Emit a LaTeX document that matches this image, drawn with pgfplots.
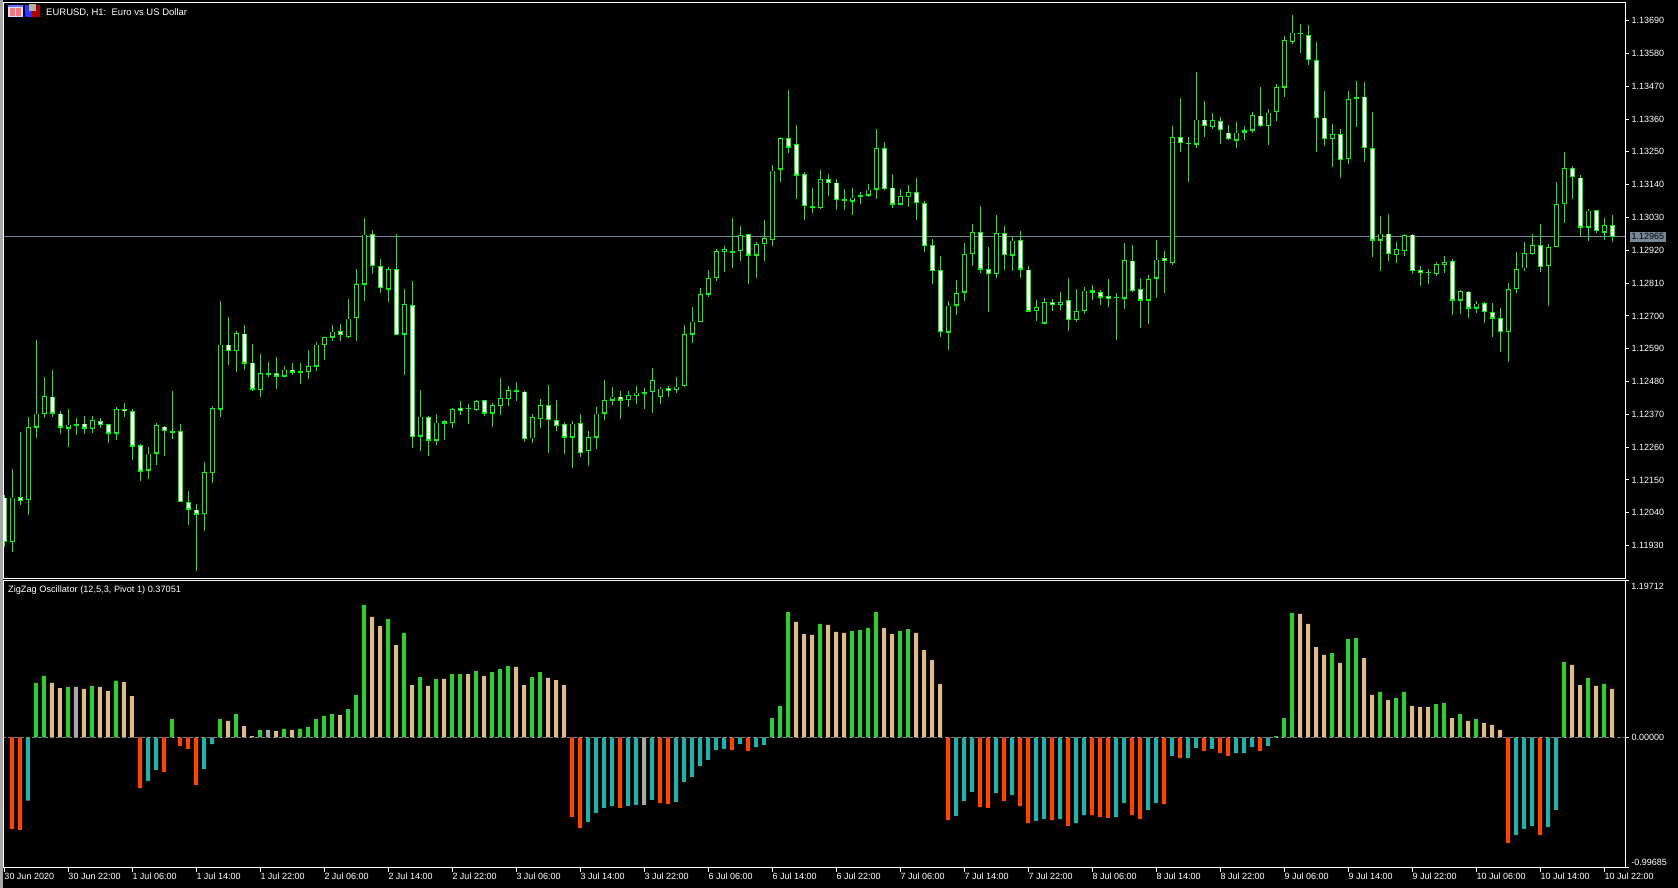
\documentclass[border=0pt]{standalone}
\usepackage{fontspec}
\setmainfont{Liberation Sans}
\usepackage{pgfplots}
\usepackage{pgfplotstable}
\pgfplotsset{compat=1.18}

\definecolor{candle}{HTML}{00FF00}
\definecolor{slate}{HTML}{778899}
\definecolor{upbar}{HTML}{32CD32}
\definecolor{tanbar}{HTML}{DEB887}
\definecolor{tealbar}{HTML}{20B2AA}
\definecolor{redbar}{HTML}{FF4500}
\definecolor{greybar}{HTML}{A9A9A9}

% EURUSD H1, bar number, open, high, low, close
\pgfplotstableread{
i o h l c
0 1.12092 1.12098 1.11924 1.11943
1 1.11943 1.12187 1.11909 1.12092
2 1.12092 1.12311 1.12067 1.12078
3 1.12082 1.12361 1.12033 1.12327
4 1.12326 1.12619 1.12291 1.12373
5 1.12370 1.12495 1.12358 1.12430
6 1.12430 1.12520 1.12362 1.12373
7 1.12373 1.12382 1.12305 1.12326
8 1.12324 1.12388 1.12262 1.12337
9 1.12336 1.12358 1.12301 1.12337
10 1.12340 1.12365 1.12305 1.12324
11 1.12322 1.12365 1.12308 1.12351
12 1.12347 1.12358 1.12325 1.12334
13 1.12337 1.12339 1.12274 1.12306
14 1.12306 1.12396 1.12284 1.12388
15 1.12388 1.12408 1.12362 1.12380
16 1.12381 1.12388 1.12217 1.12263
17 1.12267 1.12272 1.12148 1.12179
18 1.12182 1.12262 1.12154 1.12239
19 1.12239 1.12340 1.12201 1.12334
20 1.12330 1.12331 1.12231 1.12314
21 1.12314 1.12448 1.12288 1.12309
22 1.12314 1.12337 1.12076 1.12076
23 1.12076 1.12113 1.12000 1.12051
24 1.12052 1.12070 1.11846 1.12035
25 1.12035 1.12211 1.11979 1.12176
26 1.12175 1.12398 1.12139 1.12391
27 1.12387 1.12750 1.12362 1.12605
28 1.12605 1.12697 1.12536 1.12584
29 1.12584 1.12650 1.12511 1.12642
30 1.12642 1.12668 1.12520 1.12541
31 1.12544 1.12606 1.12448 1.12454
32 1.12450 1.12573 1.12429 1.12508
33 1.12508 1.12546 1.12494 1.12506
34 1.12508 1.12563 1.12455 1.12497
35 1.12497 1.12533 1.12497 1.12521
36 1.12521 1.12543 1.12502 1.12511
37 1.12515 1.12543 1.12473 1.12512
38 1.12513 1.12587 1.12489 1.12532
39 1.12531 1.12613 1.12516 1.12605
40 1.12604 1.12629 1.12553 1.12629
41 1.12628 1.12668 1.12616 1.12649
42 1.12649 1.12673 1.12616 1.12635
43 1.12631 1.12758 1.12626 1.12692
44 1.12692 1.12858 1.12616 1.12806
45 1.12806 1.13029 1.12750 1.12974
46 1.12974 1.12988 1.12841 1.12867
47 1.12867 1.12892 1.12778 1.12793
48 1.12789 1.12864 1.12748 1.12857
49 1.12858 1.12975 1.12635 1.12635
50 1.12638 1.12790 1.12502 1.12739
51 1.12735 1.12817 1.12258 1.12293
52 1.12296 1.12453 1.12248 1.12363
53 1.12362 1.12363 1.12231 1.12283
54 1.12283 1.12372 1.12268 1.12344
55 1.12348 1.12352 1.12284 1.12340
56 1.12340 1.12391 1.12325 1.12387
57 1.12391 1.12415 1.12368 1.12383
58 1.12387 1.12406 1.12339 1.12391
59 1.12386 1.12418 1.12380 1.12414
60 1.12418 1.12418 1.12365 1.12373
61 1.12373 1.12408 1.12329 1.12401
62 1.12399 1.12492 1.12368 1.12424
63 1.12423 1.12464 1.12398 1.12451
64 1.12451 1.12479 1.12415 1.12446
65 1.12448 1.12448 1.12278 1.12289
66 1.12289 1.12371 1.12274 1.12361
67 1.12356 1.12420 1.12325 1.12401
68 1.12401 1.12468 1.12241 1.12350
69 1.12351 1.12419 1.12315 1.12332
70 1.12337 1.12345 1.12238 1.12293
71 1.12293 1.12348 1.12191 1.12340
72 1.12340 1.12372 1.12228 1.12242
73 1.12246 1.12315 1.12197 1.12294
74 1.12293 1.12396 1.12254 1.12373
75 1.12373 1.12486 1.12352 1.12418
76 1.12417 1.12463 1.12402 1.12430
77 1.12430 1.12449 1.12355 1.12417
78 1.12417 1.12449 1.12396 1.12434
79 1.12432 1.12465 1.12406 1.12444
80 1.12443 1.12458 1.12388 1.12444
81 1.12446 1.12526 1.12375 1.12485
82 1.12429 1.12463 1.12406 1.12458
83 1.12459 1.12465 1.12429 1.12450
84 1.12453 1.12496 1.12443 1.12464
85 1.12466 1.12668 1.12463 1.12639
86 1.12638 1.12731 1.12610 1.12682
87 1.12681 1.12793 1.12681 1.12773
88 1.12772 1.12855 1.12764 1.12827
89 1.12826 1.12925 1.12817 1.12917
90 1.12917 1.12935 1.12848 1.12925
91 1.12917 1.13029 1.12861 1.12913
92 1.12917 1.13002 1.12884 1.12971
93 1.12974 1.12974 1.12807 1.12903
94 1.12903 1.12948 1.12827 1.12941
95 1.12940 1.13020 1.12884 1.12961
96 1.12956 1.13207 1.12935 1.13188
97 1.13191 1.13300 1.13150 1.13296
98 1.13296 1.13459 1.13247 1.13265
99 1.13276 1.13341 1.13093 1.13171
100 1.13176 1.13183 1.13022 1.13070
101 1.13068 1.13130 1.13046 1.13064
102 1.13063 1.13189 1.13059 1.13158
103 1.13158 1.13177 1.13103 1.13147
104 1.13148 1.13158 1.13055 1.13090
105 1.13088 1.13126 1.13055 1.13091
106 1.13084 1.13130 1.13039 1.13098
107 1.13098 1.13116 1.13075 1.13105
108 1.13104 1.13144 1.13099 1.13124
109 1.13124 1.13327 1.13093 1.13263
110 1.13263 1.13284 1.13123 1.13127
111 1.13131 1.13176 1.13063 1.13074
112 1.13074 1.13126 1.13074 1.13101
113 1.13100 1.13140 1.13065 1.13115
114 1.13115 1.13163 1.13022 1.13080
115 1.13078 1.13087 1.12915 1.12936
116 1.12938 1.12959 1.12807 1.12852
117 1.12853 1.12902 1.12630 1.12645
118 1.12645 1.12750 1.12587 1.12735
119 1.12735 1.12821 1.12703 1.12776
120 1.12779 1.12945 1.12750 1.12907
121 1.12907 1.13008 1.12868 1.12981
122 1.12981 1.13069 1.12845 1.12856
123 1.12857 1.12932 1.12714 1.12840
124 1.12842 1.13039 1.12827 1.12977
125 1.12977 1.13002 1.12855 1.12903
126 1.12903 1.12963 1.12851 1.12954
127 1.12954 1.12986 1.12827 1.12856
128 1.12857 1.12868 1.12714 1.12716
129 1.12718 1.12754 1.12683 1.12729
130 1.12675 1.12760 1.12673 1.12747
131 1.12747 1.12758 1.12717 1.12738
132 1.12738 1.12781 1.12721 1.12747
133 1.12753 1.12827 1.12650 1.12688
134 1.12688 1.12791 1.12680 1.12716
135 1.12716 1.12798 1.12707 1.12786
136 1.12786 1.12805 1.12754 1.12779
137 1.12780 1.12788 1.12737 1.12762
138 1.12767 1.12825 1.12731 1.12759
139 1.12759 1.12776 1.12620 1.12763
140 1.12759 1.12945 1.12724 1.12887
141 1.12887 1.12939 1.12781 1.12784
142 1.12790 1.12827 1.12660 1.12752
143 1.12752 1.12838 1.12673 1.12824
144 1.12826 1.12955 1.12760 1.12890
145 1.12894 1.12917 1.12778 1.12883
146 1.12879 1.13337 1.12872 1.13300
147 1.13300 1.13431 1.13250 1.13279
148 1.13278 1.13300 1.13150 1.13280
149 1.13276 1.13518 1.13264 1.13359
150 1.13359 1.13421 1.13301 1.13338
151 1.13335 1.13382 1.13327 1.13357
152 1.13353 1.13368 1.13278 1.13323
153 1.13316 1.13341 1.13291 1.13294
154 1.13289 1.13351 1.13264 1.13316
155 1.13315 1.13337 1.13291 1.13323
156 1.13322 1.13384 1.13313 1.13373
157 1.13373 1.13468 1.13333 1.13338
158 1.13338 1.13394 1.13274 1.13383
159 1.13383 1.13478 1.13354 1.13467
160 1.13466 1.13640 1.13435 1.13625
161 1.13619 1.13709 1.13612 1.13651
162 1.13651 1.13679 1.13583 1.13645
163 1.13641 1.13676 1.13542 1.13558
164 1.13558 1.13619 1.13250 1.13363
165 1.13366 1.13455 1.13270 1.13294
166 1.13294 1.13345 1.13201 1.13310
167 1.13310 1.13327 1.13163 1.13222
168 1.13225 1.13455 1.13210 1.13428
169 1.13436 1.13488 1.13335 1.13429
170 1.13436 1.13485 1.13217 1.13263
171 1.13263 1.13384 1.12898 1.12953
172 1.12953 1.13036 1.12851 1.12977
173 1.12977 1.13042 1.12884 1.12907
174 1.12903 1.12949 1.12878 1.12924
175 1.12919 1.12975 1.12902 1.12971
176 1.12974 1.12975 1.12841 1.12852
177 1.12855 1.12868 1.12801 1.12846
178 1.12846 1.12858 1.12807 1.12848
179 1.12842 1.12881 1.12835 1.12873
180 1.12870 1.12902 1.12845 1.12881
181 1.12883 1.12892 1.12703 1.12752
182 1.12752 1.12788 1.12707 1.12783
183 1.12783 1.12784 1.12693 1.12726
184 1.12726 1.12750 1.12711 1.12743
185 1.12743 1.12747 1.12677 1.12712
186 1.12713 1.12744 1.12630 1.12692
187 1.12692 1.12727 1.12579 1.12647
188 1.12647 1.12811 1.12546 1.12790
189 1.12791 1.12915 1.12778 1.12859
190 1.12859 1.12949 1.12851 1.12910
191 1.12909 1.12975 1.12904 1.12938
192 1.12938 1.13008 1.12848 1.12863
193 1.12867 1.12941 1.12734 1.12930
194 1.12930 1.13150 1.12930 1.13074
195 1.13074 1.13250 1.13012 1.13196
196 1.13196 1.13203 1.13093 1.13167
197 1.13165 1.13173 1.12967 1.12997
198 1.12997 1.13059 1.12951 1.13054
199 1.13054 1.13055 1.12979 1.12984
200 1.12980 1.13028 1.12955 1.13005
201 1.13005 1.13039 1.12949 1.12965
}\candles

% oscillator, bar number, value, colour group
% 1 green, 2 tan, 3 teal, 4 orange, 5 grey
\pgfplotstableread{
i v k
1 -0.699 4
2 -0.707 4
3 -0.483 3
4 0.415 1
5 0.468 1
6 0.415 2
7 0.376 2
8 0.384 1
9 0.384 5
10 0.369 2
11 0.392 1
12 0.384 2
13 0.353 2
14 0.430 1
15 0.422 2
16 0.315 2
17 -0.387 4
18 -0.333 3
19 -0.249 3
20 -0.264 4
21 0.140 1
22 -0.066 4
23 -0.089 4
24 -0.364 4
25 -0.242 3
26 -0.051 3
27 0.140 1
28 0.125 2
29 0.178 1
30 0.086 2
31 0.010 2
32 0.056 1
33 0.056 5
34 0.048 2
35 0.064 1
36 0.056 2
37 0.064 1
38 0.079 1
39 0.140 1
40 0.163 1
41 0.178 1
42 0.170 2
43 0.216 1
44 0.323 1
45 1.010 1
46 0.918 2
47 0.849 2
48 0.903 1
49 0.704 2
50 0.796 1
51 0.399 2
52 0.460 1
53 0.392 2
54 0.445 1
55 0.445 2
56 0.483 1
57 0.483 1
58 0.483 2
59 0.506 1
60 0.468 2
61 0.498 1
62 0.521 1
63 0.544 1
64 0.537 2
65 0.399 2
66 0.460 1
67 0.498 1
68 0.453 2
69 0.437 2
70 0.399 2
71 -0.608 4
72 -0.692 4
73 -0.646 3
74 -0.577 3
75 -0.539 3
76 -0.524 3
77 -0.539 4
78 -0.524 3
79 -0.516 3
80 -0.516 5
81 -0.478 3
82 -0.501 4
83 -0.509 4
84 -0.493 3
85 -0.341 3
86 -0.303 3
87 -0.219 3
88 -0.173 3
89 -0.097 3
90 -0.089 3
91 -0.097 4
92 -0.051 3
93 -0.104 4
94 -0.074 3
95 -0.058 3
96 0.147 1
97 0.239 1
98 0.956 1
99 0.880 2
100 0.788 2
101 0.781 2
102 0.865 1
103 0.857 2
104 0.804 2
105 0.796 2
106 0.811 1
107 0.819 1
108 0.834 1
109 0.956 1
110 0.834 2
111 0.788 2
112 0.811 1
113 0.826 1
114 0.796 2
115 0.666 2
116 0.590 2
117 0.407 2
118 -0.631 4
119 -0.600 3
120 -0.486 3
121 -0.417 3
122 -0.531 4
123 -0.539 4
124 -0.425 3
125 -0.486 4
126 -0.440 3
127 -0.524 4
128 -0.654 4
129 -0.638 3
130 -0.623 3
131 -0.631 4
132 -0.623 3
133 -0.676 4
134 -0.654 3
135 -0.593 3
136 -0.593 4
137 -0.608 4
138 -0.615 4
139 -0.608 3
140 -0.501 3
141 -0.593 4
142 -0.623 4
143 -0.554 3
144 -0.501 3
145 -0.509 4
146 -0.142 3
147 -0.158 4
148 -0.158 3
149 -0.081 3
150 -0.104 4
151 -0.089 3
152 -0.120 4
153 -0.142 4
154 -0.120 3
155 -0.120 3
156 -0.074 3
157 -0.104 4
158 -0.066 3
159 0.010 1
160 0.147 1
161 0.949 1
162 0.941 2
163 0.865 2
164 0.689 2
165 0.628 2
166 0.643 1
167 0.567 2
168 0.750 1
169 0.758 1
170 0.605 2
171 0.323 2
172 0.346 1
173 0.285 2
174 0.300 1
175 0.346 1
176 0.239 2
177 0.231 2
178 0.231 2
179 0.254 1
180 0.262 1
181 0.147 2
182 0.178 1
183 0.125 2
184 0.140 1
185 0.109 2
186 0.094 2
187 0.056 2
188 -0.806 4
189 -0.745 3
190 -0.699 3
191 -0.676 3
192 -0.745 4
193 -0.684 3
194 -0.554 3
195 0.575 1
196 0.552 2
197 0.399 2
198 0.453 1
199 0.392 2
200 0.407 1
201 0.37051 2
}\zigzag

\pgfplotsset{
  mtframe/.style={
    scale only axis,
    anchor=south west,
    width=810.65pt,
    xmin=-0.0625, xmax=202.6,
    axis line style={white, line width=0.5pt},
    tick style={white, line width=0.5pt},
    tick align=outside,
    major tick length=2pt,
    ytick pos=right,
    yticklabel pos=right,
    tick label style={white, font=\fontsize{4.5pt}{5pt}\selectfont},
    yticklabel style={anchor=west, inner sep=0pt, xshift=1pt},
  },
  zzbar/.style={ybar, bar width=2pt, bar shift=-0.25pt, draw=none, fill=#1,
    forget plot, unbounded coords=discard},
}

\begin{document}
\begin{tikzpicture}
\useasboundingbox (0,0) rectangle (839pt,444pt);
\fill[black] (0,0) rectangle (839pt,444pt);
\fill[black!35] (0,0) rectangle (1.5pt,444pt);

% price chart
\begin{axis}[mtframe,
  at={(2pt,154.75pt)},
  height=288.15pt,
  ymin=1.118196, ymax=1.13752,
  xtick=\empty,
  ytick={1.1193,1.1204,1.1215,1.1226,1.1237,1.1248,1.1259,1.127,1.1281,1.1292,1.1303,1.1314,1.1325,1.1336,1.1347,1.1358,1.1369},
  yticklabels={1.11930,1.12040,1.12150,1.12260,1.12370,1.12480,1.12590,1.12700,1.12810,1.12920,1.13030,1.13140,1.13250,1.13360,1.13470,1.13580,1.13690},
  extra y ticks={1.12965},
  extra y tick labels={1.12965},
  extra y tick style={major tick length=0pt,
    yticklabel style={fill=slate, text=black, inner sep=1pt, xshift=1pt}},
]
\addplot[slate, line width=0.5pt, forget plot] coordinates {(-1,1.12965) (203,1.12965)};
% wicks, low to high
\addplot[candle, line width=0.5pt, forget plot, mark=none,
  quiver={u=0, v=\thisrow{h}-\thisrow{l}}] table[x=i, y=l] {\candles};
% body outline, at least about 1.5 px high
\addplot[candle, line width=2.35pt, forget plot, mark=none,
  quiver={u=0, v={max(abs(\thisrow{o}-\thisrow{c}),0.00005)}}]
  table[x=i, y expr={(\thisrow{o}+\thisrow{c})/2-max(abs(\thisrow{o}-\thisrow{c})/2,0.000025)}] {\candles};
% inside of the bodies, black when the bar rose, white when it fell
\addplot[black, line width=1.35pt, forget plot, mark=none, unbounded coords=discard,
  quiver={u=0, v={abs(\thisrow{o}-\thisrow{c})-0.000067}}]
  table[x=i, y expr={\thisrow{c}>\thisrow{o}+0.00007 ? \thisrow{o}+0.0000335 : nan}] {\candles};
\addplot[white, line width=1.35pt, forget plot, mark=none, unbounded coords=discard,
  quiver={u=0, v={abs(\thisrow{o}-\thisrow{c})-0.000067}}]
  table[x=i, y expr={\thisrow{o}>\thisrow{c}+0.00007 ? \thisrow{c}+0.0000335 : nan}] {\candles};
\end{axis}

% oscillator
\begin{axis}[mtframe,
  at={(2pt,10pt)},
  height=143.8pt,
  ymin=-0.99685, ymax=1.19712,
  xtick={0,8,...,200},
  xticklabels={30 Jun 2020,30 Jun 22:00,1 Jul 06:00,1 Jul 14:00,1 Jul 22:00,2 Jul 06:00,2 Jul 14:00,2 Jul 22:00,3 Jul 06:00,3 Jul 14:00,3 Jul 22:00,6 Jul 06:00,6 Jul 14:00,6 Jul 22:00,7 Jul 06:00,7 Jul 14:00,7 Jul 22:00,8 Jul 06:00,8 Jul 14:00,8 Jul 22:00,9 Jul 06:00,9 Jul 14:00,9 Jul 22:00,10 Jul 06:00,10 Jul 14:00,10 Jul 22:00},
  xtick pos=bottom,
  xticklabel pos=bottom,
  xticklabel style={anchor=north west, inner sep=0pt, xshift=-0.2pt, yshift=-0.5pt},
  ytick={-0.99685,0,1.19712},
  yticklabels={,0.00000,},
]
\addplot[zzbar=upbar] table[x=i, y expr={\thisrow{k}==1 ? \thisrow{v} : nan}] {\zigzag};
\addplot[zzbar=tanbar] table[x=i, y expr={\thisrow{k}==2 ? \thisrow{v} : nan}] {\zigzag};
\addplot[zzbar=tealbar] table[x=i, y expr={\thisrow{k}==3 ? \thisrow{v} : nan}] {\zigzag};
\addplot[zzbar=redbar] table[x=i, y expr={\thisrow{k}==4 ? \thisrow{v} : nan}] {\zigzag};
\addplot[zzbar=greybar] table[x=i, y expr={\thisrow{k}==5 ? \thisrow{v} : nan}] {\zigzag};
\addplot[gray, line width=0.5pt, dash pattern=on 2pt off 1pt, forget plot] coordinates {(-1,0) (203,0)};
\end{axis}

% texts set by the terminal
\tikzset{mt/.style={white, anchor=west, inner sep=0pt, font=\fontsize{4.5pt}{5pt}\selectfont}}
\node[mt, font=\fontsize{4.75pt}{5pt}\selectfont] at (22.9pt,437.7pt) {EURUSD, H1:\ \ Euro vs US Dollar};
\node[mt, font=\fontsize{4.6pt}{5pt}\selectfont] at (3.9pt,149.1pt) {ZigZag Oscillator (12,5,3, Pivot 1) 0.37051};
\node[mt] at (815.5pt,150.8pt) {1.19712};
\node[mt] at (815.5pt,12.7pt) {-0.99685};

% the two icons beside the title
\fill[white!85!blue] (4pt,435.5pt) rectangle (11.5pt,441.5pt);
\fill[blue!60!white] (4pt,440.5pt) rectangle (11.5pt,441.5pt);
\fill[red!55!white] (5pt,436.2pt) rectangle (7.4pt,439.8pt);
\fill[red!55!white] (8pt,436.2pt) rectangle (10.6pt,439.8pt);
\fill[blue!80!white] (12.7pt,435.5pt) rectangle (16pt,441.5pt);
\fill[red!70!black] (16pt,435.5pt) rectangle (20.2pt,441.5pt);
\fill[black!30] (14.5pt,438.5pt) rectangle (18pt,441.8pt);
\end{tikzpicture}
\end{document}
